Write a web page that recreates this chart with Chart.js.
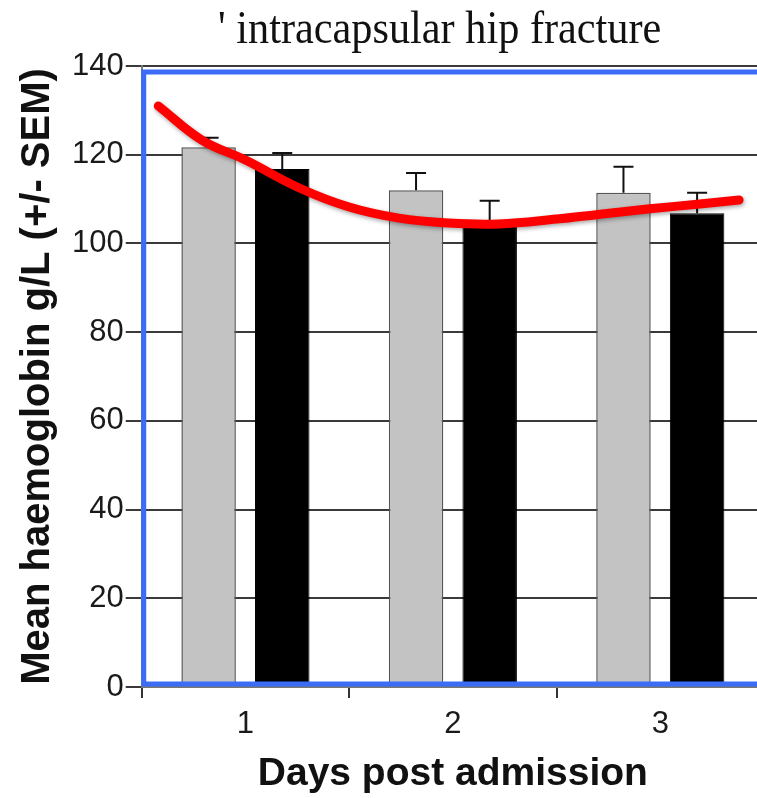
<!DOCTYPE html>
<html>
<head>
<meta charset="utf-8">
<script src="https://cdn.jsdelivr.net/npm/chart.js@4.4.1/dist/chart.umd.min.js"></script>
<style>
  html, body { margin: 0; padding: 0; background: #fff; overflow: hidden; }
  #wrap { position: absolute; left: 0; top: 0; width: 876px; height: 798px; }
</style>
</head>
<body>
<div id="wrap"><canvas id="chart" width="876" height="798"></canvas></div>
<script>
const days = ['1', '2', '3'];
const greyMeans = [121.7, 112.0, 111.4];
const greySem = [2.1, 3.9, 5.9];
const blackMeans = [116.8, 104.8, 106.8];
const blackSem = [3.6, 4.8, 4.6];
const yTicks = [0, 20, 40, 60, 80, 100, 120, 140];
const chartTitle = "' intracapsular hip fracture";

// hand-drawn red trend line (x in day-index units, y in g/L)
const curveX = [-0.42, -0.21, 0.0, 0.26, 0.5, 0.74, 0.98, 1.22, 1.5, 1.71, 1.95, 2.19, 2.38];
const curveY = [131.0, 123.3, 118.8, 112.5, 108.2, 105.7, 104.6, 104.4, 105.5, 106.6, 107.8, 108.9, 109.8];

const errorBars = {
  id: 'errorBars',
  afterDatasetDraw(chart, args) {
    const meta = args.meta;
    if (meta.type !== 'bar') return;
    const sem = meta.index === 1 ? greySem : blackSem;
    const means = meta.index === 1 ? greyMeans : blackMeans;
    const y = chart.scales.y;
    const ctx = chart.ctx;
    ctx.save();
    ctx.strokeStyle = '#111';
    ctx.lineWidth = 2;
    meta.data.forEach((bar, i) => {
      const top = y.getPixelForValue(means[i] + sem[i]);
      ctx.beginPath();
      ctx.moveTo(bar.x, bar.y);
      ctx.lineTo(bar.x, top);
      ctx.moveTo(bar.x - 10, top);
      ctx.lineTo(bar.x + 10, top);
      ctx.stroke();
    });
    ctx.restore();
  }
};

const lineShadow = {
  id: 'lineShadow',
  beforeDatasetDraw(chart, args) {
    if (args.meta.type !== 'line') return;
    const ctx = chart.ctx;
    ctx.save();
    ctx.shadowColor = 'rgba(0,0,0,0.35)';
    ctx.shadowBlur = 4;
    ctx.shadowOffsetX = 1;
    ctx.shadowOffsetY = 2;
  },
  afterDatasetDraw(chart, args) {
    if (args.meta.type !== 'line') return;
    chart.ctx.restore();
  }
};

// blue frame drawn slightly inside the axes, plus the serif heading
const decorations = {
  id: 'decorations',
  afterDraw(chart) {
    const a = chart.chartArea;
    const ctx = chart.ctx;
    ctx.save();
    ctx.strokeStyle = '#3b6cf6';
    ctx.lineWidth = 5;
    ctx.strokeRect(a.left + 2, a.top + 6, a.right - a.left + 10, a.bottom - a.top - 9);

    ctx.fillStyle = '#111';
    ctx.font = '47px "Liberation Serif"';
    ctx.textAlign = 'center';
    ctx.textBaseline = 'alphabetic';
    ctx.translate(a.left + 298, 43);
    ctx.scale(0.9, 1);
    ctx.fillText(chartTitle, 0, 0);
    ctx.restore();
  }
};

new Chart(document.getElementById('chart'), {
  type: 'bar',
  data: {
    labels: days,
    datasets: [
      {
        type: 'line',
        label: 'Trend',
        xAxisID: 'xr',
        yAxisID: 'y',
        data: curveX.map((x, i) => ({ x: x, y: curveY[i] })),
        borderColor: '#ff0000',
        borderWidth: 9,
        borderCapStyle: 'round',
        tension: 0.4,
        pointRadius: 0,
        fill: false,
        order: 0
      },
      {
        label: 'Grey',
        xAxisID: 'x',
        yAxisID: 'y',
        data: greyMeans,
        backgroundColor: '#c3c3c3',
        borderColor: '#555',
        borderWidth: 1.5,
        // the hidden trend axis halves the bar ruler, hence the doubled value
        categoryPercentage: 1.42,
        barPercentage: 0.74,
        order: 1
      },
      {
        label: 'Black',
        xAxisID: 'x',
        yAxisID: 'y',
        data: blackMeans,
        backgroundColor: '#000',
        borderColor: '#000',
        borderWidth: 1,
        categoryPercentage: 1.42,
        barPercentage: 0.74,
        order: 2
      }
    ]
  },
  options: {
    responsive: false,
    animation: false,
    layout: { padding: { left: 12, right: 112, top: 66, bottom: 0 } },
    plugins: {
      legend: { display: false },
      tooltip: { enabled: false },
      title: { display: false }
    },
    scales: {
      x: {
        type: 'category',
        offset: true,
        grid: { drawOnChartArea: false, drawTicks: true, tickLength: 11, offset: true, color: '#333', lineWidth: 2 },
        border: { display: true, color: '#777', width: 2 },
        ticks: { color: '#1a1a1a', padding: 8, font: { family: 'Liberation Sans', size: 31 } },
        title: {
          display: true,
          text: 'Days post admission',
          color: '#111',
          font: { family: 'Liberation Sans', size: 39, weight: 'bold' },
          padding: { top: 0, bottom: 0 }
        }
      },
      xr: {
        type: 'linear',
        display: false,
        offset: false,
        grid: { offset: false },
        min: -0.5,
        max: 2.5
      },
      y: {
        min: 0,
        max: 140,
        afterBuildTicks: (scale) => { scale.ticks = yTicks.map(v => ({ value: v })); },
        grid: { color: '#3a3a3a', lineWidth: 2, tickLength: 16 },
        border: { display: true, color: '#777', width: 2 },
        ticks: { color: '#1a1a1a', padding: 2, font: { family: 'Liberation Sans', size: 31 } },
        title: {
          display: true,
          text: 'Mean haemoglobin g/L (+/- SEM)',
          color: '#111',
          font: { family: 'Liberation Sans', size: 40, weight: 'bold' },
          padding: { top: 2, bottom: 8 }
        }
      }
    }
  },
  plugins: [errorBars, lineShadow, decorations]
});
</script>
</body>
</html>
